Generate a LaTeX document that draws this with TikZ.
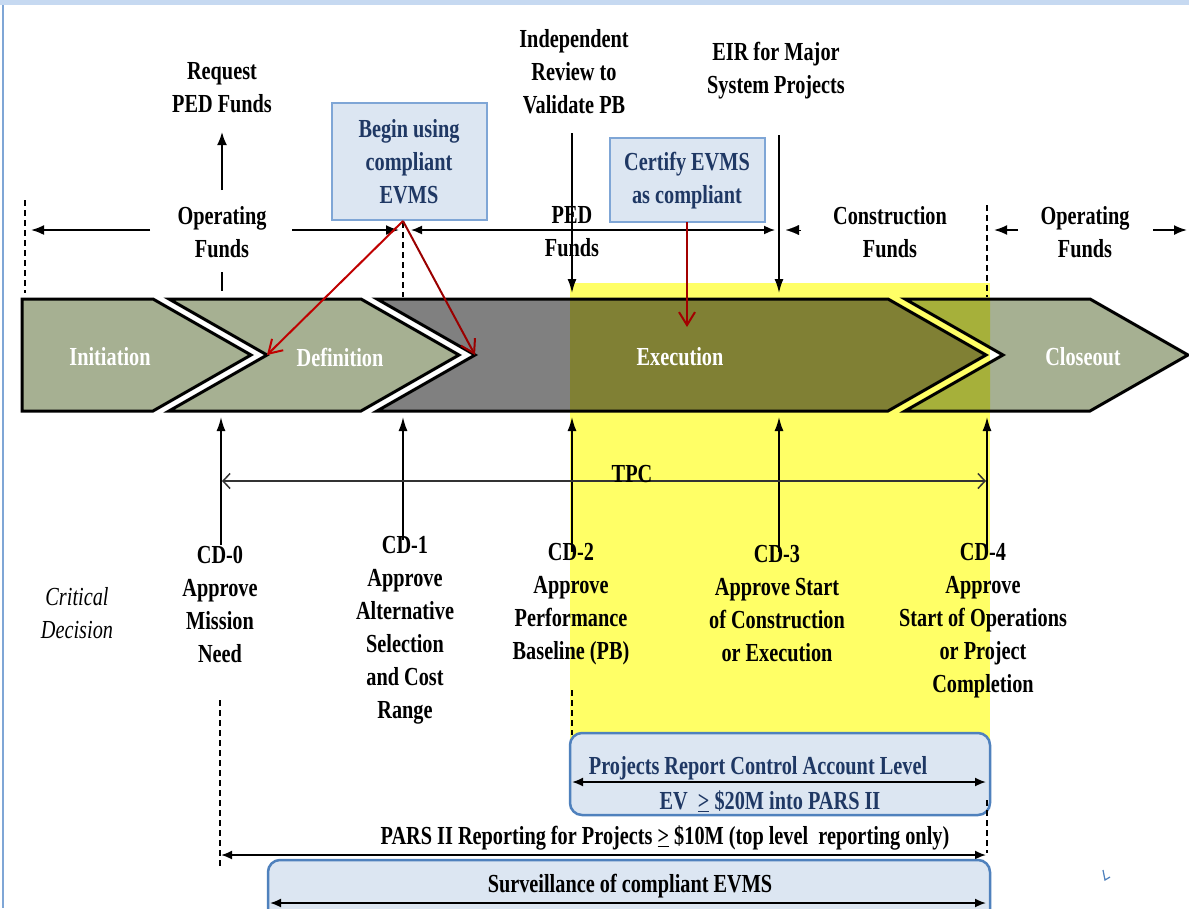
\documentclass[tikz,border=0pt]{standalone}
\usepackage{fontspec}
\setmainfont{Liberation Serif}[FakeStretch=0.78]
\usetikzlibrary{arrows.meta}
\definecolor{sage}{HTML}{A6B092}
\definecolor{sageY}{HTML}{A6B03A}
\definecolor{gry}{HTML}{808080}
\definecolor{gryY}{HTML}{808034}
\definecolor{hl}{HTML}{FFFF66}
\definecolor{boxfill}{HTML}{DCE6F2}
\definecolor{boxline}{HTML}{4F81BD}
\definecolor{boxlight}{HTML}{7FA6D6}
\definecolor{navy}{HTML}{1F3864}
\definecolor{rd}{HTML}{C00000}
\definecolor{band}{HTML}{C6D9F1}
\begin{document}
\begin{tikzpicture}[x=1pt,y=-1pt,
  lbl/.style={font=\bfseries\fontsize{26}{33}\selectfont, align=center, inner sep=0pt},
  phase/.style={font=\bfseries\fontsize{26}{33}\selectfont, text=white, inner sep=0pt},
  evbox/.style={draw=boxlight, fill=boxfill, line width=1.5pt},
  evtext/.style={lbl, text=navy},
  rbox/.style={draw=boxline, fill=boxfill, line width=2.5pt, rounded corners=12pt},
  fund/.style={line width=1.8pt, -{Latex[length=13pt,width=10pt]}},
  cdarrow/.style={line width=1.6pt, -{Latex[length=14pt,width=9pt]}},
  span/.style={line width=1.8pt, {Latex[length=11pt,width=9pt]}-{Latex[length=11pt,width=9pt]}},
  tpcline/.style={line width=1.5pt, black!80, {Straight Barb[length=7pt,width=15pt]}-{Straight Barb[length=7pt,width=15pt]}},
  redarrow/.style={line width=2pt, rd, -{Straight Barb[length=13pt,width=16pt,line width=2pt]}},
  dashln/.style={line width=1.2pt, dash pattern=on 6pt off 4pt},
  outline/.style={draw=black, line width=3pt, line join=miter},
]
\useasboundingbox (0,0) rectangle (1189,908);
\fill[white] (0,0) rectangle (1189,908);
% frame bits
\fill[band] (0,0) rectangle (1189,5);
\draw[boxlight, line width=1.5pt] (3,5) -- (3,908);
% highlight
\fill[hl] (570,283) rectangle (990,790);
% chevrons fill
\def\chI{(22,299) -- (153,299) -- (251,355) -- (153,411) -- (22,411) -- cycle}
\def\chD{(169,299) -- (361,299) -- (459,355) -- (361,411) -- (169,411) -- (267,355) -- cycle}
\def\chE{(377,299) -- (888,299) -- (986,355) -- (888,411) -- (377,411) -- (475,355) -- cycle}
\def\chC{(905,299) -- (1090,299) -- (1188,355) -- (1090,411) -- (905,411) -- (1003,355) -- cycle}
\fill[sage] \chI;
\fill[sage] \chD;
\fill[gry] \chE;
\fill[sage] \chC;
\begin{scope}
  \clip (570,283) rectangle (990,790);
  \fill[gryY] \chE;
  \fill[sageY] \chC;
\end{scope}
\draw[outline] \chI;
\draw[outline] \chD;
\draw[outline] \chE;
\draw[outline] \chC;
\coordinate (defnotch) at (267,355);
\coordinate (exenotch) at (475,355);
% phase labels
\node[phase] (ini) at (110,357) {Initiation};
\node[phase] (def) at (340,357) {Definition};
\node[phase] (exe) at (680,357) {Execution};
\node[phase] (clo) at (1083,357) {Closeout};
% top labels
\node[lbl] (req) at (222,88) {Request\\PED Funds};
\node[lbl] (op1) at (222,232) {Operating\\Funds};
\node[lbl] (ped) at (572,232) {PED\\Funds};
\node[lbl] (con) at (890,232) {Construction\\Funds};
\node[lbl] (op2) at (1085,232) {Operating\\Funds};
\node[lbl] (ind) at (574,72) {Independent\\Review to\\Validate PB};
\node[lbl] (eir) at (776,71) {EIR for Major\\System Projects};
\draw[evbox] (332,103) rectangle (487,220);
\node[evtext] (begin) at (409,162) {Begin using\\compliant\\EVMS};
\draw[evbox] (610,138) rectangle (765,222);
\node[evtext] (cert) at (687,181) {Certify EVMS\\as compliant};
% top connectors
\coordinate (reqfoot) at (222,190);
\coordinate (reqtip) at (222,132);
\draw[fund] (reqfoot) -- (reqtip);
\draw[line width=1.4pt] (222,272) -- (222,291);
\coordinate (opL1) at (150,230); \coordinate (opL2) at (31,230);
\coordinate (opR1) at (292,230); \coordinate (opR2) at (399,230);
\draw[fund] (opL1) -- (opL2);
\draw[fund] (opR1) -- (opR2);
\coordinate (pedL) at (411,230); \coordinate (pedR) at (775,230);
\draw[span, line width=1.6pt] (pedL) -- (pedR);
\coordinate (conL1) at (801,230); \coordinate (conL2) at (786,230);
\draw[fund, line width=0.1pt] (conL1) -- (conL2);
\coordinate (opA1) at (1018,230); \coordinate (opA2) at (994,230);
\draw[fund] (opA1) -- (opA2);
\coordinate (opB1) at (1153,230); \coordinate (opB2) at (1187,230);
\draw[fund] (opB1) -- (opB2);
\coordinate (indtop) at (572,133); \coordinate (indbot) at (572,293);
\draw[cdarrow] (indtop) -- (indbot);
\coordinate (eirtop) at (779,135); \coordinate (eirbot) at (779,293);
\draw[cdarrow] (eirtop) -- (eirbot);
% dashed markers
\draw[dashln] (25,200) -- (25,293);
\draw[dashln] (403,222) -- (403,297);
\draw[dashln] (987,205) -- (987,297);
% red arrows
\coordinate (beginfoot) at (403,221);
\draw[redarrow] (beginfoot) -- (defnotch);
\draw[redarrow, rd!80!black] (beginfoot) -- (exenotch);
\coordinate (certfoot) at (687,222);
\coordinate (certtip) at (687,327);
\draw[redarrow, rd!85!black] (certfoot) -- (certtip);
% critical decisions
\node[lbl, font=\itshape\fontsize{26}{33}\selectfont] (crit) at (77,613) {Critical\\Decision};
\node[lbl] (cd0) at (220,604) {CD-0\\Approve\\Mission\\Need};
\node[lbl] (cd1) at (405,630) {CD-1\\Approve\\Alternative\\Selection\\and Cost\\Range};
\node[lbl] (cd2) at (571,604) {CD-2\\Approve\\Performance\\Baseline (PB)};
\node[lbl] (cd3) at (777,604) {CD-3\\Approve Start\\of Construction\\or Execution};
\node[lbl] (cd4) at (983,621) {CD-4\\Approve\\Start of Operations\\or Project\\Completion};
\foreach \n/\x/\b in {cd0/221/545, cd1/403/540, cd2/572/552, cd3/779/552, cd4/987/552}{
  \draw[cdarrow] (\x,\b) -- (\x,417);
}
% TPC
\coordinate (tpcL) at (222,481); \coordinate (tpcR) at (986,481);
\draw[tpcline] (tpcL) -- (tpcR);
\node[lbl, anchor=base] (tpc) at (632,482) {TPC};
% lower dashed
\draw[dashln] (220,700) -- (220,866);
\draw[dashln] (572,690) -- (572,735);
% control account box
\draw[rbox] (570,733) rectangle (990,815);
\node[evtext] (pr) at (758,768) {Projects Report Control Account Level};
\node[evtext] (ev) at (770,801) {EV\ \ \underline{>} \$20M into PARS II};
\coordinate (caL) at (572,782); \coordinate (caR) at (986,782);
\draw[span] (caL) -- (caR);
\draw[dashln] (987,800) -- (987,853);
% PARS
\node[lbl] (pars) at (665,838) {PARS II Reporting for Projects \underline{>} \$10M (top level\ \ reporting only)};
\coordinate (paL) at (221,855); \coordinate (paR) at (986,855);
\draw[span] (paL) -- (paR);
% surveillance
\draw[rbox] (268,860) rectangle (990,930);
\node[evtext, text=black] (sur) at (630,886) {Surveillance of compliant EVMS};
\coordinate (suL) at (270,903); \coordinate (suR) at (986,903);
\draw[span] (suL) -- (suR);
% stray mark
\draw[boxline, line width=1.2pt] (1103,870) -- (1105,880) -- (1110,877);
\end{tikzpicture}
\end{document}
